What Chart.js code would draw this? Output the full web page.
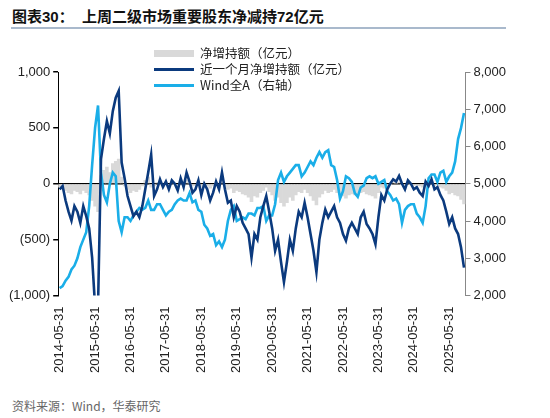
<!DOCTYPE html>
<html>
<head>
<meta charset="utf-8">
<script src="https://cdn.jsdelivr.net/npm/chart.js@4"></script>
<style>
body { margin: 0; background: #fff; font-family: "Liberation Sans", "Noto Sans CJK SC", sans-serif; }
#title { position: absolute; left: 12px; top: 5px; font-size: 15px; font-weight: bold; color: #111; font-family: "Liberation Sans", "Noto Sans CJK SC"; }
#rule { position: absolute; left: 11px; top: 27px; width: 495px; height: 2px; background: #a9b9cc; }
#wrap { position: absolute; left: 0; top: 34px; width: 550px; height: 342px; }
#legend { position: absolute; left: 154px; top: 45px; font-size: 12.5px; color: #222; line-height: 16px; font-family: "Noto Sans CJK SC", sans-serif; }
#legend div { display: flex; align-items: center; }
#legend span.k { display: inline-block; width: 40px; margin-right: 6px; }
#source { position: absolute; left: 12px; top: 397px; font-size: 12px; color: #666; font-family: "Noto Sans CJK SC", sans-serif; }
</style>
</head>
<body>
<div id="title">图表30：&nbsp; 上周二级市场重要股东净减持72亿元</div>
<div id="rule"></div>
<div id="wrap"><canvas id="chart"></canvas></div>
<div id="legend">
  <div><span class="k" style="height:7px;background:#d9d9d9"></span>净增持额（亿元）</div>
  <div><span class="k" style="height:3px;background:#0b3a7e"></span>近一个月净增持额（亿元）</div>
  <div><span class="k" style="height:3px;background:#1aaee8"></span>Wind全A（右轴）</div>
</div>
<div id="source">资料来源：Wind，华泰研究</div>
<script>
// monthly points, 2014-05 to 2025-10
let months = [];
for (let y = 2014; y <= 2025; y++) {
    for (let m = 1; m <= 12; m++) {
        if (y === 2014 && m < 5) continue;
        if (y === 2025 && m > 10) continue;
        let last = new Date(y, m, 0).getDate();
        months.push(y + '-' + String(m).padStart(2, '0') + '-' + last);
    }
}

let netWeekly = [-30,-20,-60,-80,-90,-60,-70,-90,-60,-80,-100,-150,-200,-250,
    80,120,150,100,180,200,220,60,-20,
    -50,-80,-60,-70,-50,-20,30,60,-30,-20,10,-10,-15,
    10,-20,10,-5,-20,15,-10,30,5,-20,-15,10,-30,-5,-20,-40,-20,5,-15,30,-15,
    -50,-40,-80,-60,-70,-90,-100,-120,-160,-110,-120,-80,-60,-30,
    -70,-100,-150,-120,-170,-200,-170,-120,-150,-100,-70,-80,-50,-80,-110,-150,-190,-120,-90,-60,
    -80,-70,-50,-80,-90,-110,-130,-100,-90,-100,-110,-80,-70,-90,-100,-110,-130,-80,-30,
    -40,-15,-5,10,5,15,-5,-10,10,-5,-15,-10,-20,-30,5,-5,10,-15,-10,-30,-40,-60,-90,-80,-100,-110,-140,-180];

let netMonth = [-50,-20,-150,-250,-330,-200,-250,-350,-200,-290,-400,-660,-1100,-1100,
    220,400,560,450,650,770,830,190,50,-110,-200,-290,-250,-300,-200,-50,100,260,-110,-50,40,-30,
    20,-50,30,0,-60,50,-30,100,20,-80,-50,30,-100,0,-50,-150,-80,20,-50,100,-50,
    -170,-150,-300,-200,-250,-350,-400,-450,-660,-450,-500,-300,-200,-110,-250,-400,-600,-500,-700,
    -880,-700,-500,-600,-400,-250,-300,-170,-300,-450,-600,-790,-500,-350,-230,-300,-250,-200,-300,
    -350,-450,-510,-400,-350,-400,-450,-300,-250,-360,-400,-450,-540,-300,-100,-150,-50,0,40,20,70,
    0,-50,30,0,-50,-30,-80,-110,20,-20,40,-50,-30,-100,-150,-250,-360,-300,-400,-450,-570,-750];

let windA = [2200,2250,2400,2500,2700,2800,3000,3300,
    3500,3700,4400,5500,6500,7100,5300,4700,4500,5000,5300,5200,
    4000,3700,4100,4100,4000,4150,4250,4350,4300,4350,4550,4300,
    4300,4450,4450,4300,4150,4250,4300,4450,4550,4600,4550,4550,
    4750,4500,4550,4300,4250,3900,3800,3600,3650,3350,3450,3300,
    3500,4000,4300,4400,4000,4050,4100,4050,4200,4200,4150,4350,
    4350,4400,4000,4150,4150,4450,5100,5300,5050,5200,5300,5400,
    5500,5500,5200,5300,5450,5600,5500,5700,5850,5700,5850,5900,
    5500,5450,5100,4600,4800,5200,5150,5050,4750,4650,4900,4950,
    5150,5200,5150,5200,5000,5050,5100,4800,4700,4550,4600,4450,
    3950,4300,4400,4450,4450,4200,4100,3950,4400,5150,5250,5250,
    5050,5300,5350,5050,5200,5300,5600,6200,6500,6900];

let leftTicks = [1000, 500, 0, -500, -1000];
let rightTicks = [2000, 3000, 4000, 5000, 6000, 7000, 8000];

function fmt(v) {
    let s = Math.abs(v).toLocaleString('en-US');
    return v < 0 ? '(' + s + ')' : s;
}

let font = { family: 'Liberation Sans, Arial', size: 13 };

new Chart(document.getElementById('chart'), {
    data: {
        labels: months,
        datasets: [{
            type: 'line',
            label: '近一个月净增持额（亿元）',
            data: netMonth,
            borderColor: '#0b3a7e',
            borderWidth: 2.6,
            pointRadius: 0,
            tension: 0,
            yAxisID: 'y',
            order: 1
        }, {
            type: 'line',
            label: 'Wind全A（右轴）',
            data: windA,
            borderColor: '#1aaee8',
            borderWidth: 2.6,
            pointRadius: 0,
            tension: 0,
            yAxisID: 'y2',
            order: 2
        }, {
            type: 'bar',
            label: '净增持额（亿元）',
            data: netWeekly,
            backgroundColor: '#d9d9d9',
            barPercentage: 1,
            categoryPercentage: 1,
            yAxisID: 'y',
            order: 3
        }]
    },
    options: {
        animation: false,
        responsive: true,
        maintainAspectRatio: false,
        layout: { padding: { left: 6, right: 41, top: 38, bottom: 0 } },
        plugins: { legend: { display: false }, tooltip: { enabled: false } },
        scales: {
            x: {
                grid: { display: false },
                border: { display: false },
                ticks: {
                    autoSkip: false,
                    maxRotation: 90,
                    minRotation: 90,
                    color: '#222',
                    font: font,
                    callback: function (v, i) { return i % 12 === 0 ? months[i] : ''; }
                }
            },
            y: {
                position: 'left',
                min: -1000,
                max: 1000,
                afterBuildTicks: axis => { axis.ticks = leftTicks.map(v => ({ value: v })); },
                border: { display: true, color: '#000' },
                grid: {
                    drawOnChartArea: true,
                    color: ctx => ctx.tick && ctx.tick.value === 0 ? '#000' : 'rgba(0,0,0,0)',
                    lineWidth: 1.5,
                    tickLength: 5,
                    tickColor: '#000'
                },
                ticks: { color: '#222', font: font, callback: v => fmt(v) }
            },
            y2: {
                position: 'right',
                min: 2000,
                max: 8000,
                afterBuildTicks: axis => { axis.ticks = rightTicks.map(v => ({ value: v })); },
                border: { display: true, color: '#888' },
                grid: { drawOnChartArea: false, tickLength: 5, tickColor: '#888' },
                ticks: { color: '#222', font: font, callback: v => fmt(v) }
            }
        }
    }
});
</script>
</body>
</html>
